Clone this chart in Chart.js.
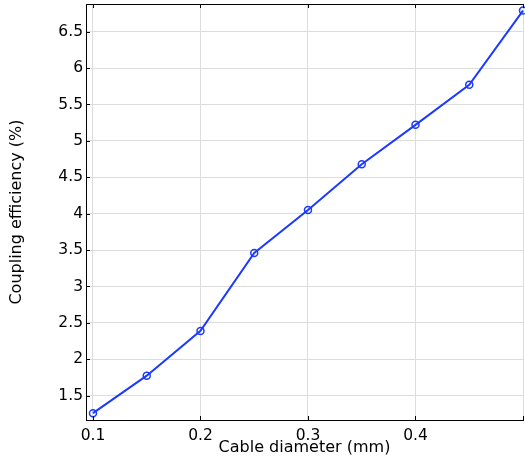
<!DOCTYPE html>
<html>
<head>
<meta charset="utf-8">
<script src="https://cdn.jsdelivr.net/npm/chart.js@4/dist/chart.umd.min.js"></script>
<style>
  html, body { margin: 0; padding: 0; background: #fff; }
  #wrap { width: 525px; height: 459px; }
</style>
</head>
<body>
<div id="wrap"><canvas id="chart-coupling" width="525" height="459"></canvas></div>
<script>
const cableDiameter = [0.1, 0.15, 0.2, 0.25, 0.3, 0.35, 0.4, 0.45, 0.5];
const couplingEfficiency = [1.26, 1.775, 2.39, 3.46, 4.05, 4.68, 5.22, 5.77, 6.79];
const xTicks = [0.1, 0.2, 0.3, 0.4, 0.5];
const yTicks = [1.5, 2, 2.5, 3, 3.5, 4, 4.5, 5, 5.5, 6, 6.5];

const lineBlue = 'rgb(28, 58, 255)';
const tickFont = { family: 'DejaVu Sans', size: 15.5 };
const titleFont = { family: 'DejaVu Sans', size: 16 };

// short inward tick marks on the frame, like the original plot
const innerTicks = {
    id: 'innerTicks',
    afterDraw(chart) {
        const { ctx, chartArea: a, scales: { x, y } } = chart;
        ctx.save();
        ctx.strokeStyle = '#000';
        ctx.lineWidth = 1;
        ctx.beginPath();
        xTicks.forEach(v => {
            const px = Math.round(x.getPixelForValue(v)) + 0.5;
            ctx.moveTo(px, a.bottom); ctx.lineTo(px, a.bottom - 4);
            ctx.moveTo(px, a.top); ctx.lineTo(px, a.top + 4);
        });
        yTicks.forEach(v => {
            const py = Math.round(y.getPixelForValue(v)) + 0.5;
            ctx.moveTo(a.left, py); ctx.lineTo(a.left + 4, py);
        });
        ctx.stroke();
        // top frame line
        ctx.beginPath();
        ctx.moveTo(a.left, a.top + 0.5); ctx.lineTo(a.right, a.top + 0.5);
        ctx.stroke();
        ctx.restore();
    }
};

const chartCouplingGet = document.getElementById('chart-coupling');
const chartCouplingRender = new Chart(chartCouplingGet, {
    type: 'line',
    data: {
        datasets: [{
            data: cableDiameter.map((d, i) => ({ x: d, y: couplingEfficiency[i] })),
            borderColor: lineBlue,
            borderWidth: 2,
            pointRadius: 3.5,
            pointBorderWidth: 1.5,
            pointBorderColor: lineBlue,
            pointBackgroundColor: 'rgba(0,0,0,0)',
            fill: false,
            tension: 0,
            clip: false
        }]
    },
    options: {
        responsive: false,
        animation: false,
        layout: { autoPadding: false, padding: { top: 4, right: 2, left: 0, bottom: 0 } },
        plugins: { legend: { display: false }, tooltip: { enabled: false } },
        scales: {
            x: {
                type: 'linear',
                min: 0.0935,
                max: 0.5,
                afterBuildTicks: s => { s.ticks = xTicks.map(v => ({ value: v })); },
                afterFit: s => { s.height = 39; s.paddingLeft = 0; s.paddingRight = 0; },
                grid: { color: '#dcdcdc', tickLength: 0 },
                border: { color: '#000', width: 1 },
                ticks: {
                    color: '#000',
                    font: tickFont,
                    padding: 7,
                    maxRotation: 0,
                    callback: v => (v >= 0.5 ? '' : String(v))
                },
                title: {
                    display: true,
                    text: 'Cable diameter (mm)',
                    color: '#000',
                    font: titleFont,
                    padding: { top: 0, bottom: 1.5 }
                }
            },
            y: {
                min: 1.166,
                max: 6.88,
                afterBuildTicks: s => { s.ticks = yTicks.map(v => ({ value: v })); },
                afterFit: s => { s.width = 86; s.paddingTop = 0; s.paddingBottom = 0; },
                grid: { color: '#dcdcdc', tickLength: 0 },
                border: { color: '#000', width: 1 },
                ticks: {
                    color: '#000',
                    font: tickFont,
                    padding: 3,
                    callback: v => String(v)
                },
                title: {
                    display: true,
                    text: 'Coupling efficiency (%)',
                    color: '#000',
                    font: titleFont,
                    padding: { top: 7.5, bottom: 0 }
                }
            }
        }
    },
    plugins: [innerTicks]
});
</script>
</body>
</html>
